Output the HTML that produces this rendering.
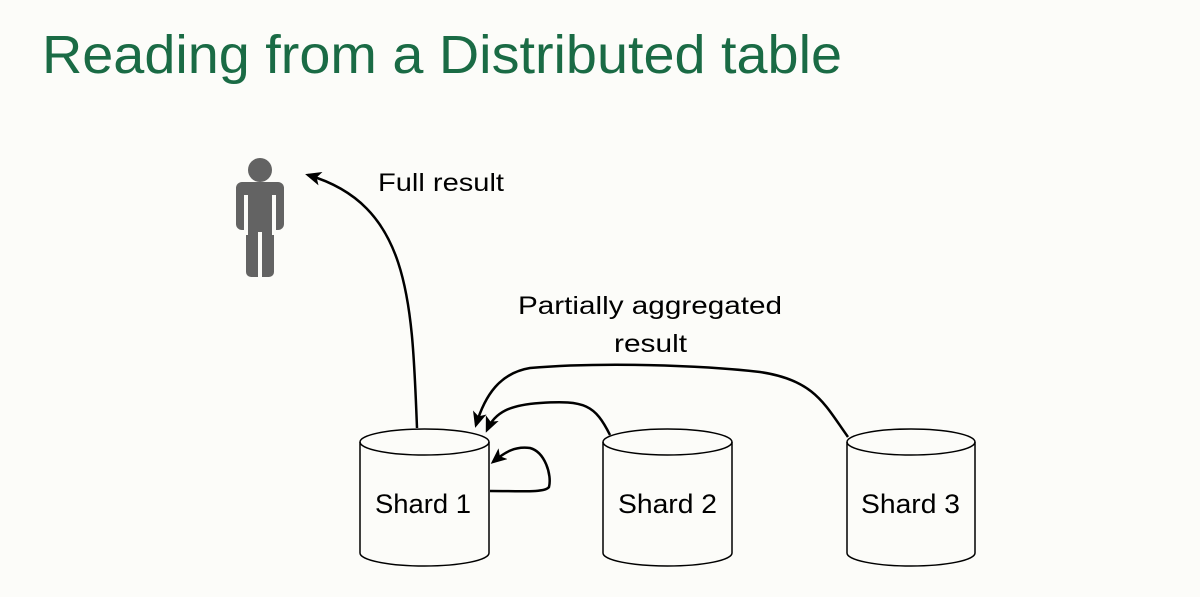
<!DOCTYPE html>
<html><head><meta charset="utf-8"><style>
html,body{margin:0;padding:0;background:#fcfcf9;}
svg{display:block;}
text{font-family:"Liberation Sans","DejaVu Sans",sans-serif;}
</style></head><body>
<svg width="1200" height="597" viewBox="0 0 1200 597" xmlns="http://www.w3.org/2000/svg">
<defs>
<marker id="ah" markerWidth="16" markerHeight="14" refX="13" refY="7" orient="auto" markerUnits="userSpaceOnUse">
<path d="M0,0 L16,7 L0,14 L4,7 z" fill="#000"/>
</marker>
</defs>
<rect width="1200" height="597" fill="#fcfcf9"/>
<text x="42" y="73" font-size="54" fill="#1a6b45" textLength="800" lengthAdjust="spacingAndGlyphs">Reading from a Distributed table</text>

<!-- person -->
<g fill="#636363">
<circle cx="260" cy="170" r="12"/>
<rect x="236" y="182" width="48" height="48" rx="6"/>
<rect x="246" y="200" width="28" height="77" rx="5"/>
</g>
<rect x="244" y="195" width="4" height="40" fill="#fcfcf9"/>
<rect x="272" y="195" width="4" height="40" fill="#fcfcf9"/>
<rect x="258" y="232" width="4" height="46" fill="#fcfcf9"/>

<!-- cylinders -->
<g fill="none" stroke="#000" stroke-width="1.5">
<path d="M360,442 V553 A64.5,13 0 0 0 489,553 V442"/>
<ellipse cx="424.5" cy="442" rx="64.5" ry="13"/>
<path d="M603,442 V553 A64.5,13 0 0 0 732,553 V442"/>
<ellipse cx="667.5" cy="442" rx="64.5" ry="13"/>
<path d="M847,442 V553 A64,13 0 0 0 975,553 V442"/>
<ellipse cx="911" cy="442" rx="64" ry="13"/>
</g>
<g font-size="27" fill="#000">
<text x="375" y="513" textLength="96" lengthAdjust="spacingAndGlyphs">Shard 1</text>
<text x="618" y="513" textLength="99" lengthAdjust="spacingAndGlyphs">Shard 2</text>
<text x="861" y="513" textLength="99" lengthAdjust="spacingAndGlyphs">Shard 3</text>
</g>

<!-- arrows -->
<g fill="none" stroke="#000" stroke-width="2.5">
<path d="M417,428 C412,300 410,205 308,175" marker-end="url(#ah)"/>
<path d="M610,435 C595,405 585,400 540,403 C510,405 495,412 487,430" marker-end="url(#ah)"/>
<path d="M848,437 C825,405 815,380 760,372 C700,365 600,362 530,368 C500,373 485,395 476,425" marker-end="url(#ah)"/>
<path d="M490,491 C520,491 545,493 549,487 C552,475 545,452 530,448 C515,446 505,452 493,462" marker-end="url(#ah)"/>
</g>

<g font-size="25" fill="#000">
<text x="378" y="191" textLength="126" lengthAdjust="spacingAndGlyphs">Full result</text>
<text x="518" y="314" textLength="264" lengthAdjust="spacingAndGlyphs">Partially aggregated</text>
<text x="614" y="352" textLength="73" lengthAdjust="spacingAndGlyphs">result</text>
</g>
</svg>
</body></html>
